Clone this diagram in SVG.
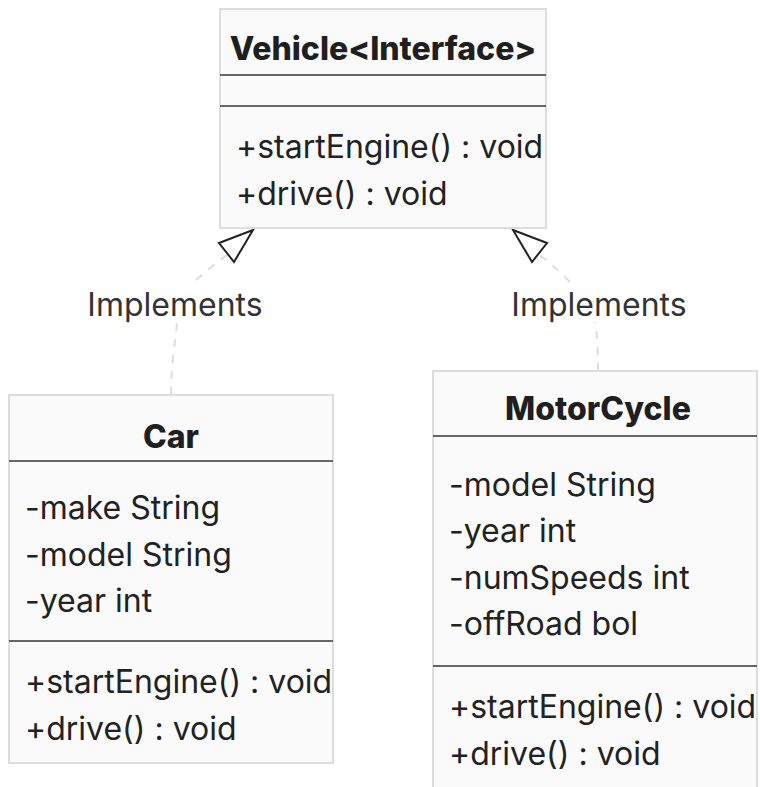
<svg xmlns="http://www.w3.org/2000/svg" width="760" height="787" viewBox="0 0 760 787">
  <defs>
    <style>
      .box { fill: #fafafa; stroke: #dddddd; stroke-width: 2; }
      .div { stroke: #666666; stroke-width: 2; }
      .title { font-family: Inter, "Liberation Sans", sans-serif; font-weight: 800; font-size: 32px; fill: #1f1f1f; text-anchor: middle; }
      .member { font-family: Inter, "Liberation Sans", sans-serif; font-size: 32px; fill: #222222; }
      .edge { fill: none; stroke: #dddddd; stroke-width: 2; stroke-dasharray: 8 8; }
      .arrow { fill: none; stroke: #222222; stroke-width: 2; }
      .elabel { font-family: Inter, "Liberation Sans", sans-serif; font-size: 32px; fill: #333333; text-anchor: middle; }
    </style>
  </defs>
  <rect width="760" height="787" fill="#ffffff"/>

  <!-- connectors: dashed realization edges with hollow triangles at the interface -->
  <g id="connectors">
    <path class="edge" d="M171,395 C171,360 176,340 177,322"/>
    <path class="edge" d="M196,280 C210,268 222,258 233,251"/>
    <polygon class="arrow" points="253,230 219,243 234,262"/>
    <text class="elabel" x="175" y="316">Implements</text>

    <path class="edge" d="M598,371 C598,350 597,335 595,322"/>
    <path class="edge" d="M570,282 C558,270 545,258 533,251"/>
    <polygon class="arrow" points="513,230 547,243 532,262"/>
    <text class="elabel" x="599" y="316">Implements</text>
  </g>

  <g id="Vehicle">
    <rect class="box" x="220" y="9" width="326" height="219"/>
    <text class="title" x="383" y="60">Vehicle&lt;Interface&gt;</text>
    <line class="div" x1="220" y1="75" x2="546" y2="75"/>
    <line class="div" x1="220" y1="106" x2="546" y2="106"/>
    <text class="member" x="236" y="158">+startEngine() : void</text>
    <text class="member" x="236" y="205">+drive() : void</text>
  </g>

  <g id="Car">
    <rect class="box" x="9" y="395" width="324" height="368"/>
    <text class="title" x="171" y="448">Car</text>
    <line class="div" x1="9" y1="461" x2="333" y2="461"/>
    <text class="member" x="25" y="519">-make String</text>
    <text class="member" x="25" y="566">-model String</text>
    <text class="member" x="25" y="612">-year int</text>
    <line class="div" x1="9" y1="641" x2="333" y2="641"/>
    <text class="member" x="25" y="693">+startEngine() : void</text>
    <text class="member" x="25" y="740">+drive() : void</text>
  </g>

  <g id="MotorCycle">
    <rect class="box" x="433" y="371" width="324" height="430"/>
    <text class="title" x="598" y="420">MotorCycle</text>
    <line class="div" x1="433" y1="436" x2="757" y2="436"/>
    <text class="member" x="449" y="496">-model String</text>
    <text class="member" x="449" y="542">-year int</text>
    <text class="member" x="449" y="589">-numSpeeds int</text>
    <text class="member" x="449" y="635">-offRoad bol</text>
    <line class="div" x1="433" y1="666" x2="757" y2="666"/>
    <text class="member" x="449" y="718">+startEngine() : void</text>
    <text class="member" x="449" y="765">+drive() : void</text>
  </g>
</svg>
